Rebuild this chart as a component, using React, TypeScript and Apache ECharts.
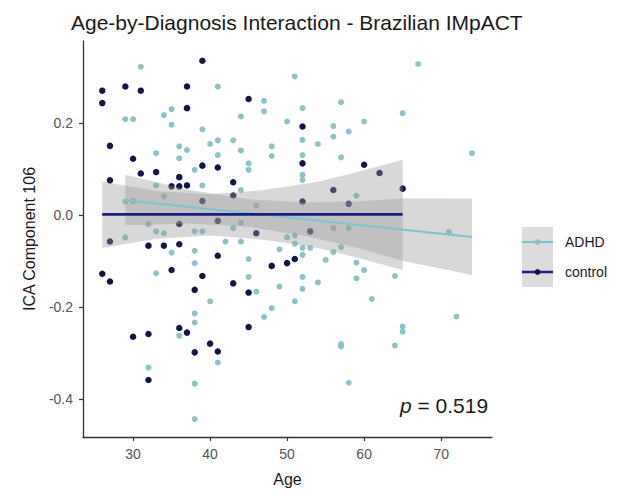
import React, { useEffect, useRef } from "react";
import * as echarts from "echarts";

// ---- data ----
const ADHD_AGE = [
  31, 41, 51, 47, 47, 29, 30, 34, 35, 35, 44, 50, 39, 36, 37, 40, 41, 43, 44, 48,
  48, 33, 36, 41, 45, 45, 38, 33, 39, 44, 29, 30, 34, 46, 32, 33, 34, 38, 39, 44,
  43, 67, 57, 52, 56, 60, 65, 56, 58, 52, 54, 57, 52, 52, 52, 74, 59, 56, 58, 50,
  51, 71, 29, 35, 38, 38, 33, 42, 44, 45, 45, 46, 49, 49, 51, 51, 48, 47, 40, 38,
  38, 36, 41, 32, 38, 38, 52, 52, 52, 52, 54, 55, 56, 57, 59, 60, 59, 64, 61, 72,
  65, 65, 57, 57, 64, 58, 53,
];
const ADHD_VAL = [
  0.322, 0.279, 0.301, 0.248, 0.225, 0.208, 0.208, 0.217, 0.23, 0.196, 0.214, 0.203, 0.186, 0.149, 0.141, 0.154, 0.162, 0.162, 0.14, 0.149,
  0.128, 0.134, 0.123, 0.13, 0.112, 0.098, 0.098, 0.064, 0.064, 0.054, 0.029, 0.03, 0.04, 0.02, -0.02, -0.036, -0.04, -0.036, -0.036, -0.017,
  -0.029, 0.328, 0.245, 0.232, 0.193, 0.203, 0.221, 0.17, 0.181, 0.163, 0.154, 0.125, 0.13, 0.087, 0.076, 0.134, 0.042, -0.029, -0.029, -0.049,
  -0.045, -0.037, -0.049, -0.082, -0.078, -0.105, -0.127, -0.058, -0.058, -0.096, -0.135, -0.167, -0.075, -0.156, -0.063, -0.188, -0.203, -0.222, -0.188, -0.214,
  -0.234, -0.263, -0.321, -0.332, -0.367, -0.444, -0.072, -0.087, -0.135, -0.161, -0.147, -0.098, -0.081, -0.07, -0.104, -0.12, -0.138, -0.133, -0.183, -0.221,
  -0.243, -0.254, -0.281, -0.286, -0.284, -0.365, -0.072,
];
const CTRL_AGE = [
  26, 26, 29, 31, 37, 37, 39, 45, 27, 30, 31, 33, 27, 36, 39, 41, 43, 35, 36, 37,
  43, 52, 46, 36, 41, 39, 52, 60, 62, 65, 56, 52, 58, 53, 27, 32, 34, 36, 41, 26,
  27, 35, 39, 43, 45, 48, 50, 51, 38, 36, 37, 30, 32, 45, 40, 41, 38, 32,
];
const CTRL_VAL = [
  0.27, 0.243, 0.279, 0.27, 0.279, 0.232, 0.335, 0.252, 0.15, 0.122, 0.09, 0.093, 0.075, 0.082, 0.107, 0.103, 0.071, 0.062, 0.062, 0.064,
  0.042, 0.192, -0.04, -0.02, -0.013, 0.03, 0.112, 0.109, 0.091, 0.057, 0.054, 0.029, 0.024, -0.036, -0.058, -0.067, -0.067, -0.064, -0.089, -0.128,
  -0.145, -0.12, -0.133, -0.149, -0.169, -0.111, -0.105, -0.096, -0.163, -0.246, -0.256, -0.265, -0.259, -0.244, -0.28, -0.297, -0.299, -0.359,
];

const ADHD_FIT_AGE = [29, 74];
const ADHD_FIT_VAL = [0.032, -0.048];
const CTRL_FIT_AGE = [26, 65];
const CTRL_FIT_VAL = [0.001, 0.001];

const ADHD_BAND_AGE = [29, 37, 45, 52, 59, 65, 74];
const ADHD_BAND_LO = [-0.023, -0.019, -0.026, -0.045, -0.071, -0.1, -0.131];
const ADHD_BAND_HI = [0.087, 0.055, 0.034, 0.027, 0.029, 0.036, 0.035];
const CTRL_BAND_AGE = [26, 33, 40, 47, 54, 60, 65];
const CTRL_BAND_LO = [-0.072, -0.052, -0.045, -0.054, -0.072, -0.097, -0.12];
const CTRL_BAND_HI = [0.072, 0.052, 0.045, 0.054, 0.072, 0.097, 0.12];

const X_TICKS = [30, 40, 50, 60, 70];
const Y_TICKS = [-0.4, -0.2, 0, 0.2];
const GROUPS = ["ADHD", "control"];
const P_LABEL = "0.519";

const ADHD_POINT = "#8CC3C7";
const ADHD_LINE = "#7AC5CD";
const CTRL_POINT = "#141448";
const CTRL_LINE = "#1C1C8A";
const BAND_FILL = "rgba(153,153,153,0.38)";
const FONT = "Liberation Sans, Arial, sans-serif";

function bandSeries(ages: number[], lo: number[], hi: number[]) {
  return {
    type: "custom",
    coordinateSystem: "cartesian2d",
    silent: true,
    z: 3,
    data: ages.map((a, i) => [a, lo[i], hi[i]]),
    encode: { x: 0, y: [1, 2] },
    renderItem: (params: any, api: any) => {
      if (params.dataIndex !== 0) return { type: "group", children: [] };
      const pts: number[][] = [];
      for (let i = 0; i < ages.length; i++) pts.push(api.coord([ages[i], hi[i]]));
      for (let i = ages.length - 1; i >= 0; i--) pts.push(api.coord([ages[i], lo[i]]));
      return { type: "polygon", shape: { points: pts }, style: { fill: BAND_FILL } };
    },
  };
}

export default function App() {
  const ref = useRef<HTMLDivElement>(null);
  useEffect(() => {
    if (!ref.current) return;
    const chart = echarts.init(ref.current, undefined, { renderer: "svg" });
    const axisLine = { show: true, onZero: false, lineStyle: { color: "#333333", width: 1.3 } };
    const axisTickCommon = { show: true, length: 4, lineStyle: { color: "#333333", width: 1.2 } };
    const legendItems: any[] = [];
    const legendColors = [
      [ADHD_POINT, ADHD_LINE],
      [CTRL_POINT, CTRL_LINE],
    ];
    GROUPS.forEach((g, i) => {
      const y0 = 227 + i * 30;
      legendItems.push(
        { type: "rect", shape: { x: 522, y: y0, width: 31, height: 30 }, style: { fill: "#dcdcdc" } },
        { type: "line", shape: { x1: 522, y1: y0 + 15, x2: 553, y2: y0 + 15 }, style: { stroke: legendColors[i][1], lineWidth: i === 1 ? 2.5 : 2 } },
        { type: "circle", shape: { cx: 537.5, cy: y0 + 15, r: 3 }, style: { fill: legendColors[i][0] } },
        { type: "text", x: 565, y: y0 + 15, style: { text: g, fontSize: 14, fontFamily: FONT, fill: "#1a1a1a", verticalAlign: "middle", align: "left" } }
      );
    });
    const option: any = {
      animation: false,
      title: {
        text: "Age-by-Diagnosis Interaction - Brazilian IMpACT",
        left: 66,
        top: 7,
        textStyle: { fontSize: 21, fontWeight: "normal", color: "#1a1a1a", fontFamily: FONT },
      },
      grid: { left: 83, right: 142, top: 41, bottom: 59 },
      xAxis: {
        type: "value",
        min: 23.5,
        max: 76.6,
        name: "Age",
        nameLocation: "middle",
        nameGap: 34,
        nameTextStyle: { fontSize: 16, color: "#1a1a1a", fontFamily: FONT },
        axisLine,
        axisTick: { ...axisTickCommon, customValues: X_TICKS },
        axisLabel: { customValues: X_TICKS, fontSize: 14, color: "#555555", fontFamily: FONT, margin: 10 },
        splitLine: { show: false },
      },
      yAxis: {
        type: "value",
        min: -0.483,
        max: 0.378,
        name: "ICA Component 106",
        nameLocation: "middle",
        nameGap: 32,
        nameTextStyle: { fontSize: 16, color: "#1a1a1a", fontFamily: FONT },
        axisLine,
        axisTick: { ...axisTickCommon, customValues: Y_TICKS },
        axisLabel: {
          customValues: Y_TICKS,
          fontSize: 14,
          color: "#555555",
          fontFamily: FONT,
          margin: 10,
          formatter: (v: number) => v.toFixed(1),
        },
        splitLine: { show: false },
      },
      series: [
        {
          name: "ADHD",
          type: "scatter",
          symbolSize: 6,
          z: 2,
          itemStyle: { color: ADHD_POINT, opacity: 1 },
          data: ADHD_AGE.map((a, i) => [a, ADHD_VAL[i]]),
        },
        {
          name: "control",
          type: "scatter",
          symbolSize: 6.5,
          z: 2,
          itemStyle: { color: CTRL_POINT, opacity: 1 },
          data: CTRL_AGE.map((a, i) => [a, CTRL_VAL[i]]),
        },
        bandSeries(ADHD_BAND_AGE, ADHD_BAND_LO, ADHD_BAND_HI),
        bandSeries(CTRL_BAND_AGE, CTRL_BAND_LO, CTRL_BAND_HI),
        {
          type: "line",
          z: 4,
          symbol: "none",
          lineStyle: { color: ADHD_LINE, width: 2 },
          data: ADHD_FIT_AGE.map((a, i) => [a, ADHD_FIT_VAL[i]]),
        },
        {
          type: "line",
          z: 4,
          symbol: "none",
          lineStyle: { color: CTRL_LINE, width: 2.6 },
          data: CTRL_FIT_AGE.map((a, i) => [a, CTRL_FIT_VAL[i]]),
        },
      ],
      graphic: [
        ...legendItems,
        {
          type: "text",
          x: 400,
          y: 405,
          style: {
            text: "{i|p} = " + P_LABEL,
            fontSize: 21,
            fontFamily: FONT,
            fill: "#1a1a1a",
            verticalAlign: "middle",
            align: "left",
            rich: { i: { fontStyle: "italic", fontSize: 21, fontFamily: FONT, fill: "#1a1a1a" } },
          },
        },
      ],
    };
    chart.setOption(option);
    return () => chart.dispose();
  }, []);
  return (
    <div
      ref={ref}
      style={{ position: "fixed", left: 0, top: 0, width: 634, height: 496, background: "#ffffff" }}
    />
  );
}
